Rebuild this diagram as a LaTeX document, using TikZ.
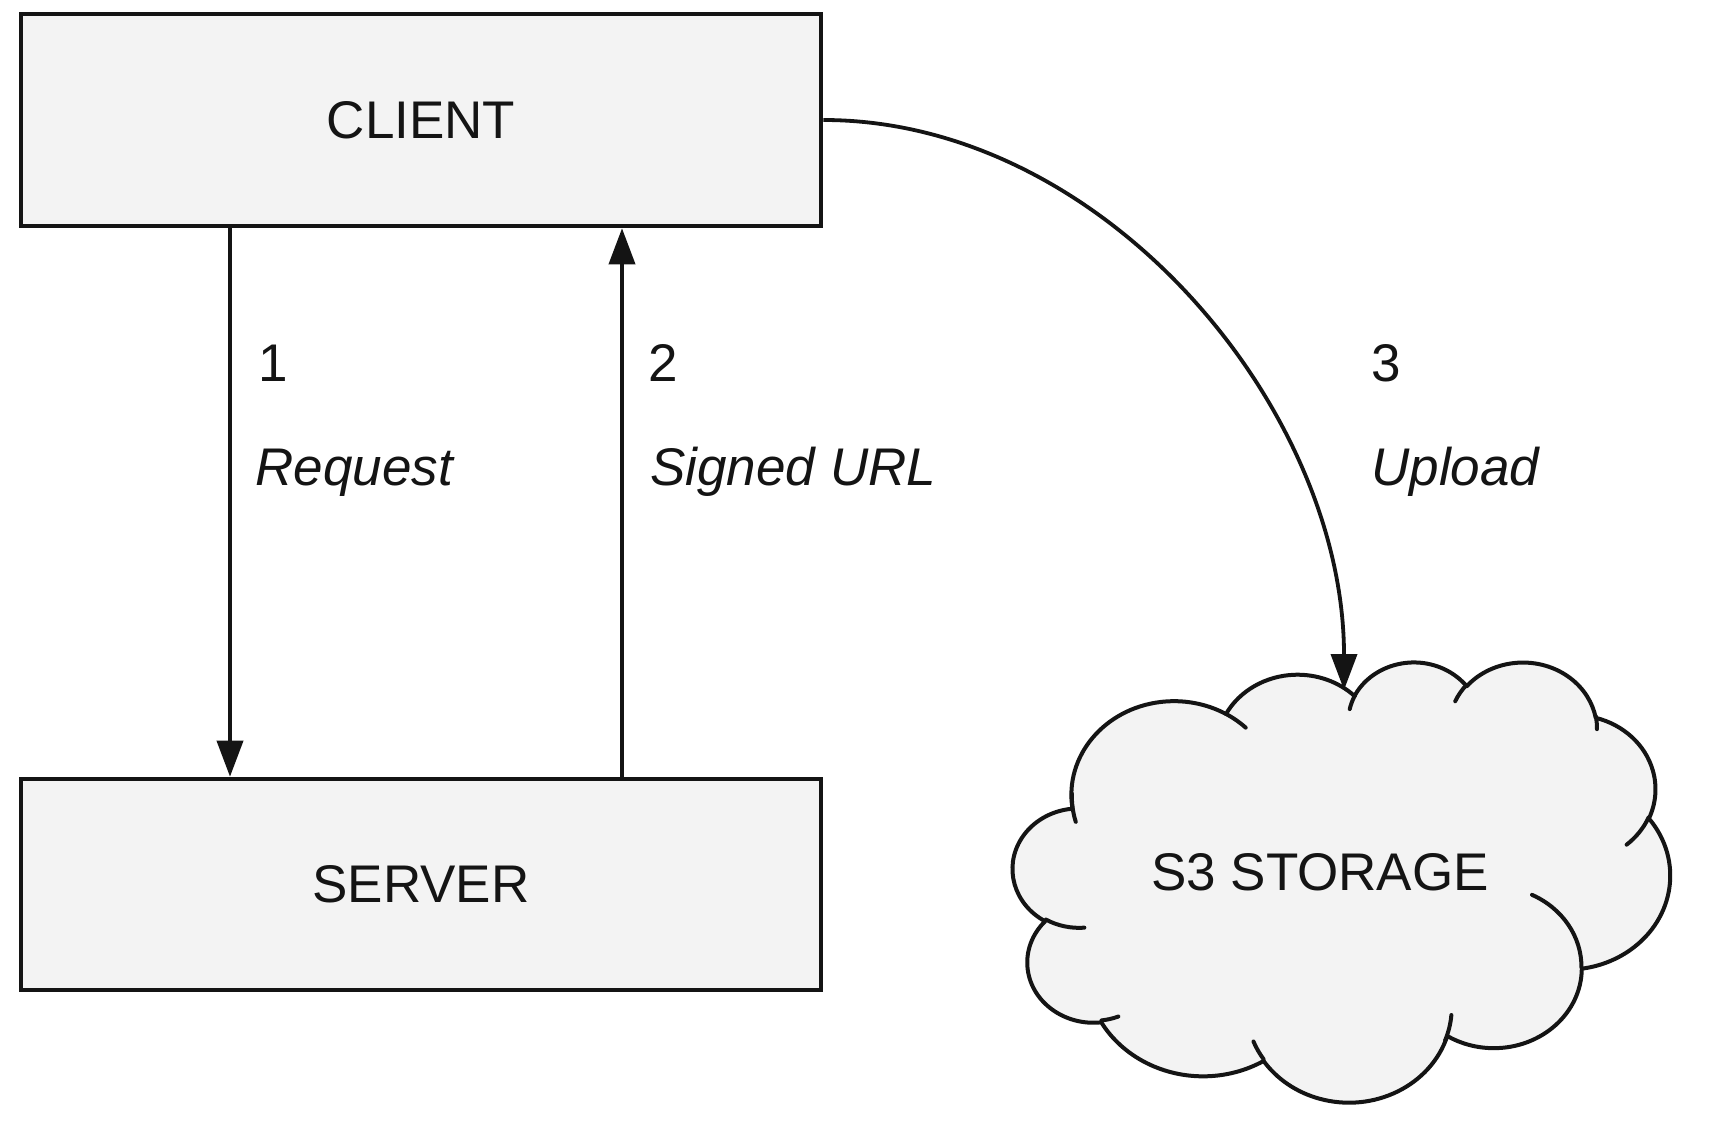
\documentclass[tikz,border=0pt]{standalone}
\usepackage{fontspec}
\setmainfont{Liberation Sans}
\usetikzlibrary{arrows.meta}
\definecolor{boxfill}{HTML}{F3F3F3}
\definecolor{ink}{HTML}{141414}

% visual (OOXML) angle -> parametric angle of the ellipse
\newcommand\cldpang[4]{\pgfmathsetmacro#1{(#4)+mod(atan2((#2)*sin(#4),(#3)*cos(#4))-(#4)+900,360)-180}}
\newcommand\cldprep[5]{%
  \pgfmathsetmacro\cldtmp{(#4)+(#5)}%
  \cldpang\cldta{#2}{#3}{#4}%
  \cldpang\cldtb{#2}{#3}{\cldtmp}%
  \expandafter\global\expandafter\let\csname clds#1\endcsname\cldta
  \expandafter\global\expandafter\let\csname clde#1\endcsname\cldtb}
% outline arcs
\cldprep{A}{675.3}{919.0}{-190.4875}{123.7805}
\cldprep{B}{533.3}{726.7}{-144.1024}{89.9452}
\cldprep{C}{436.5}{594.5}{-145.8079}{99.7230}
\cldprep{D}{485.7}{659.5}{-130.9861}{117.2417}
\cldprep{E}{533.3}{727.3}{-78.7089}{109.0269}
\cldprep{F}{677.5}{922.0}{-46.2673}{130.2690}
\cldprep{G}{578.5}{786.7}{0.6250}{114.0333}
\cldprep{H}{675.2}{921.5}{22.4516}{115.1726}
\cldprep{I}{772.0}{1054.3}{66.2426}{75.7110}
\cldprep{J}{436.0}{591.8}{-274.9421}{146.7356}
\cldprep{K}{434.5}{594.5}{-246.8285}{152.5189}
% hooks
\cldprep{a}{434.5}{594.5}{86.7420}{26.4295}
\cldprep{b}{436.0}{591.8}{73.6105}{11.4475}
\cldprep{c}{675.2}{921.5}{137.6242}{14.0811}
\cldprep{d}{675.2}{921.5}{6.4533}{15.9984}
\cldprep{e}{578.5}{786.7}{-70.2924}{70.9174}
\cldprep{f}{533.3}{727.3}{30.3180}{27.7515}
\cldprep{g}{485.7}{659.5}{-13.7443}{14.8589}
\cldprep{h}{485.7}{659.5}{-149.1815}{18.1954}
\cldprep{i}{436.5}{594.5}{-163.4943}{17.6864}
\cldprep{j}{675.3}{919.0}{-66.7070}{12.3194}
\cldprep{k}{675.3}{919.0}{158.7889}{23.3440}

\tikzset{
  box/.style={draw=ink, line width=2.3pt, fill=boxfill, minimum width=400pt,
    inner sep=0pt, font=\fontsize{26.5}{30}\selectfont, text=ink},
  lbl/.style={inner sep=0pt, font=\fontsize{26.5}{30}\selectfont, text=ink},
  arr/.style={draw=ink, line width=1.9pt, -{Triangle[length=18pt,width=13pt]}},
  cloudline/.style={draw=ink, line width=2pt, line join=round, line cap=round},
}

\begin{document}
\begin{tikzpicture}[x=0.5pt,y=-0.5pt]
\useasboundingbox[fill=white] (0,0) rectangle (1716,1124);

% boxes
\node[box, minimum height=106pt] (client) at (421,120) {CLIENT};
\node[box, minimum height=105.5pt] (server) at (421,884.5) {SERVER};

% cloud
\begin{scope}[shift={(1013,661)}, x=0.076042pt, y=-0.05093pt]
\path[cloudline, fill=boxfill] (390,1437)
  arc[start angle=\cldsA, end angle=\cldeA, x radius=675.3, y radius=919.0]
  arc[start angle=\cldsB, end angle=\cldeB, x radius=533.3, y radius=726.7]
  arc[start angle=\cldsC, end angle=\cldeC, x radius=436.5, y radius=594.5]
  arc[start angle=\cldsD, end angle=\cldeD, x radius=485.7, y radius=659.5]
  arc[start angle=\cldsE, end angle=\cldeE, x radius=533.3, y radius=727.3]
  arc[start angle=\cldsF, end angle=\cldeF, x radius=677.5, y radius=922.0]
  arc[start angle=\cldsG, end angle=\cldeG, x radius=578.5, y radius=786.7]
  arc[start angle=\cldsH, end angle=\cldeH, x radius=675.2, y radius=921.5]
  arc[start angle=\cldsI, end angle=\cldeI, x radius=772.0, y radius=1054.3]
  arc[start angle=\cldsJ, end angle=\cldeJ, x radius=436.0, y radius=591.8]
  arc[start angle=\cldsK, end angle=\cldeK, x radius=434.5, y radius=594.5]
  -- cycle;
\draw[cloudline] (469.3,2617.7) arc[start angle=\cldsa, end angle=\cldea, x radius=434.5, y radius=594.5];
\draw[cloudline] (692.8,3489.9) arc[start angle=\cldsb, end angle=\cldeb, x radius=436.0, y radius=591.8];
\draw[cloudline] (1647.8,3909.0) arc[start angle=\cldsc, end angle=\cldec, x radius=675.2, y radius=921.5];
\draw[cloudline] (2882.7,3475.1) arc[start angle=\cldsd, end angle=\cldsd+15.9984, x radius=675.2, y radius=921.5];
\draw[cloudline] (3412.9,2295.4) arc[start angle=\cldse, end angle=\cldee, x radius=578.5, y radius=786.7];
\draw[cloudline] (4179.8,1535.4) arc[start angle=\cldsf, end angle=\cldef, x radius=533.3, y radius=727.3];
\draw[cloudline] (3832.4,542.6) arc[start angle=\cldsg, end angle=\cldeg, x radius=485.7, y radius=659.5];
\draw[cloudline] (2907.8,395.2) arc[start angle=\cldsh, end angle=\cldeh, x radius=485.7, y radius=659.5];
\draw[cloudline] (2214.1,472.0) arc[start angle=\cldsi, end angle=\cldei, x radius=436.5, y radius=594.5];
\draw[cloudline] (1400.0,519.2) arc[start angle=\cldsj, end angle=\cldej, x radius=675.3, y radius=919.0];
\draw[cloudline] (412.7,1578.9) arc[start angle=\cldsk, end angle=\cldek, x radius=675.3, y radius=919.0];
\end{scope}
\node[lbl] (s3) at (1320,872.5) {S3 STORAGE};
\coordinate (s3top) at (1344,690);

% labels
\node[lbl, anchor=base west] (n1) at (258,381) {1};
\node[lbl, anchor=base west] (t1) at (255,485) {\itshape Request};
\node[lbl, anchor=base west] (n2) at (648,381) {2};
\node[lbl, anchor=base west] (t2) at (650,485) {\itshape Signed URL};
\node[lbl, anchor=base west] (n3) at (1371,381) {3};
\node[lbl, anchor=base west] (t3) at (1371,485) {\itshape Upload};

% connectors
\draw[arr] ([xshift=-95.5pt]client.south) -- ([xshift=-95.5pt]server.north);
\draw[arr] ([xshift=100.5pt]server.north) -- ([xshift=100.5pt]client.south);
\draw[arr] (client.east) to[out=0, in=90, looseness=0.93] (s3top);
\end{tikzpicture}
\end{document}
